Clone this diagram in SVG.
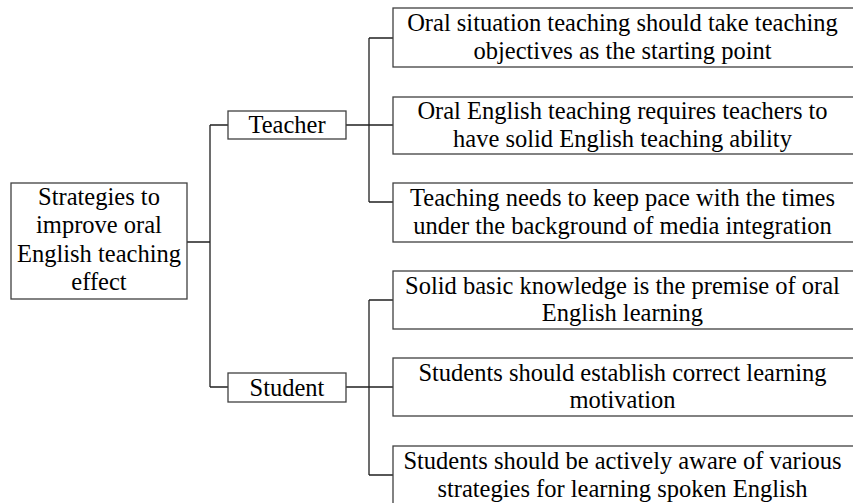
<svg xmlns="http://www.w3.org/2000/svg" width="853" height="503" viewBox="0 0 853 503">
<style>
rect{fill:#fff;stroke:#404040;stroke-width:1.3}
text{font-family:"Liberation Serif","Times New Roman",serif;font-size:24.5px;fill:#000;text-anchor:middle}
.c path{fill:none;stroke:#202020;stroke-width:1.3}
</style>
<rect x="0" y="0" width="853" height="503" style="stroke:none"/>
<g class="c" id="connectors">
<path d="M187,242H210M210,125V387M210,125H228M210,387H228"/>
<path d="M346,125H393M369,38V202M369,38H393M369,202H393"/>
<path d="M346,387H393M369,300V475M369,300H393M369,475H393"/>
</g>
<g id="root"><rect x="11" y="183" width="176" height="116"/>
<text x="99" y="204.5">Strategies to</text><text x="99" y="233">improve oral</text><text x="99" y="261.5">English teaching</text><text x="99" y="290">effect</text></g>
<g id="teacher"><rect x="228" y="111" width="118" height="28"/><text x="287" y="133">Teacher</text></g>
<g id="student"><rect x="228" y="373" width="118" height="29"/><text x="287" y="395.5">Student</text></g>
<g id="t1"><rect x="393" y="8" width="462" height="59"/><text x="622.5" y="31">Oral situation teaching should take teaching</text><text x="622.5" y="58.5">objectives as the starting point</text></g>
<g id="t2"><rect x="393" y="97" width="462" height="57"/><text x="622.5" y="119">Oral English teaching requires teachers to</text><text x="622.5" y="146.5">have solid English teaching ability</text></g>
<g id="t3"><rect x="393" y="183" width="462" height="59"/><text x="622.5" y="206">Teaching needs to keep pace with the times</text><text x="622.5" y="233.5">under the background of media integration</text></g>
<g id="s1"><rect x="393" y="271" width="462" height="58"/><text x="622.5" y="293.5">Solid basic knowledge is the premise of oral</text><text x="622.5" y="321">English learning</text></g>
<g id="s2"><rect x="393" y="358" width="462" height="58"/><text x="622.5" y="380.5">Students should establish correct learning</text><text x="622.5" y="408">motivation</text></g>
<g id="s3"><rect x="393" y="446" width="462" height="60"/><text x="622.5" y="469">Students should be actively aware of various</text><text x="622.5" y="496.5">strategies for learning spoken English</text></g>
</svg>
